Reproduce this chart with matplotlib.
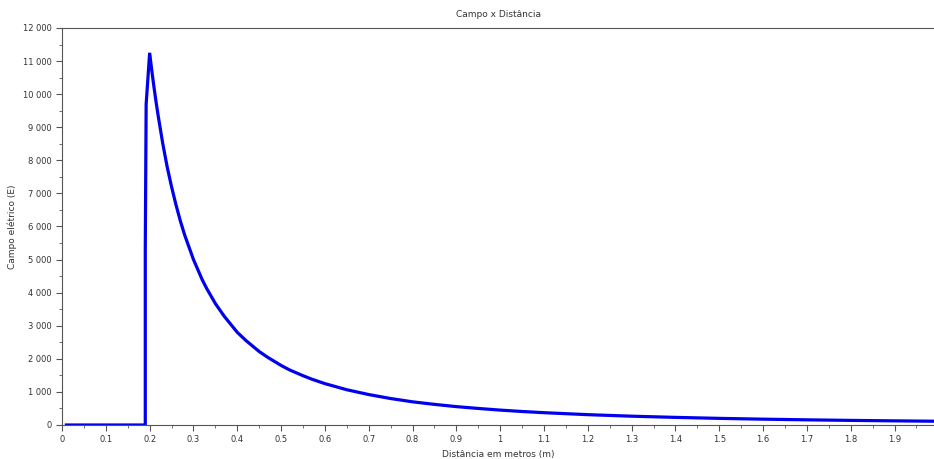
import matplotlib
matplotlib.use("Agg")
import matplotlib.pyplot as plt
from matplotlib.ticker import MultipleLocator, FuncFormatter

# valores (distancia em m, campo E)
distancia = [0.01, 0.05, 0.10, 0.15, 0.19, 0.19, 0.192, 0.20, 0.205, 0.21, 0.215, 0.22, 0.23,
             0.24, 0.25, 0.26, 0.27, 0.28, 0.30, 0.32, 0.33, 0.35, 0.37, 0.40, 0.42, 0.45,
             0.47, 0.50, 0.52, 0.55, 0.57, 0.60, 0.65, 0.70, 0.75, 0.80, 0.85, 0.90, 0.95,
             1.00, 1.05, 1.10, 1.20, 1.30, 1.40, 1.50, 1.60, 1.70, 1.80, 1.90, 1.99]
campo = [0, 0, 0, 0, 0, 5300, 9700, 11250, 10700, 10200, 9730, 9300, 8500,
         7800, 7200, 6660, 6170, 5740, 5000, 4390, 4130, 3670, 3290, 2800, 2550, 2220,
         2040, 1800, 1660, 1490, 1385, 1250, 1065, 920, 800, 700, 623, 555, 500,
         450, 408, 372, 312, 266, 230, 200, 176, 156, 139, 125, 114]

fig = plt.figure(figsize=(9.34, 4.59), dpi=100)
ax = fig.add_axes([0.0664, 0.0741, 0.9336, 0.8649])

ax.plot(distancia, campo, color="#0000ee", linewidth=2.3, solid_joinstyle="miter")

ax.set_xlim(0, 1.99)
ax.set_ylim(0, 12000)

ax.xaxis.set_major_locator(MultipleLocator(0.1))
ax.xaxis.set_minor_locator(MultipleLocator(0.05))
ax.yaxis.set_major_locator(MultipleLocator(1000))
ax.yaxis.set_minor_locator(MultipleLocator(500))
ax.xaxis.set_major_formatter(FuncFormatter(lambda v, p: f"{round(v, 2):g}"))
ax.yaxis.set_major_formatter(FuncFormatter(lambda v, p: f"{int(round(v)):,}".replace(",", " ")))

cinza = "#555555"
for s in ax.spines.values():
    s.set_color(cinza)
ax.spines["right"].set_visible(False)
ax.tick_params(which="both", direction="out", colors=cinza, labelcolor="#333333", labelsize=6)
ax.tick_params(which="major", length=4)
ax.tick_params(which="minor", length=2)

ax.set_title("Campo x Distância", fontsize=6.5, color="#333333", pad=8)
ax.set_xlabel("Distância em metros (m)", fontsize=6.5, color="#333333")
ax.set_ylabel("Campo elétrico (E)", fontsize=6.5, color="#333333")
ax.xaxis.set_label_coords(0.5, -0.063)
ax.yaxis.set_label_coords(-0.052, 0.5)

plt.savefig("out.png", dpi=100)
